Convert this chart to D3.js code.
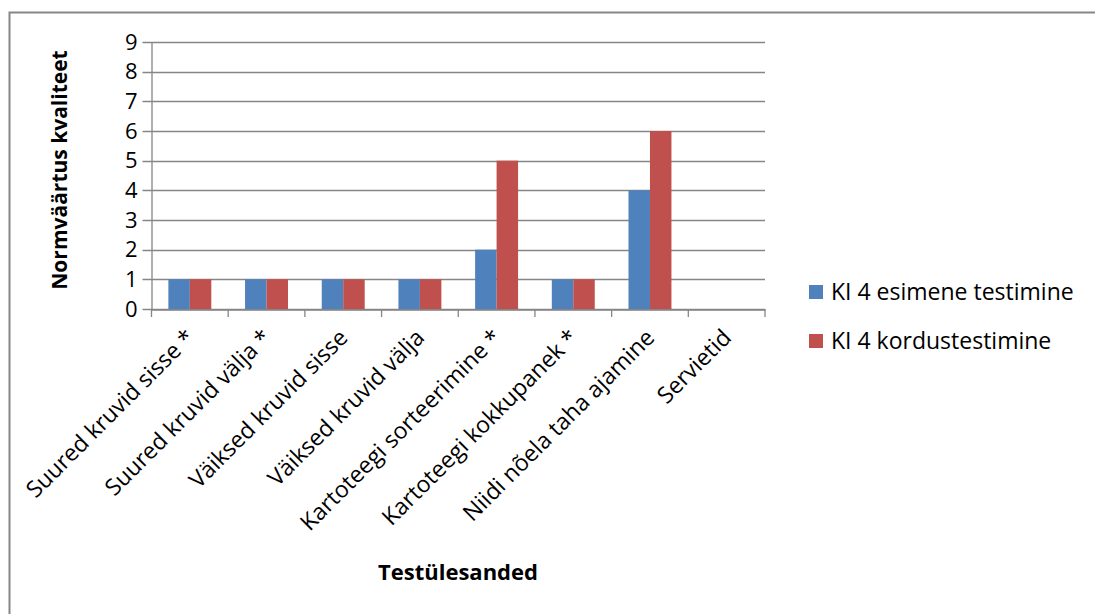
<!doctype html>
<html>
<head>
    <meta charset="utf-8">
    <title>KI 4 testimine</title>
    <script src="https://d3js.org/d3.v7.min.js"></script>
    <style>
        body { margin: 0; background: #fff; }
        text { font-family: "Open Sans", Lato, sans-serif; fill: #000; }
    </style>
</head>
<body>
    <svg width="1095" height="614"></svg>
    <script>
        // data
        var categories = ["Suured kruvid sisse *", "Suured kruvid välja *", "Väiksed kruvid sisse",
            "Väiksed kruvid välja", "Kartoteegi sorteerimine *", "Kartoteegi kokkupanek *",
            "Niidi nõela taha ajamine", "Servietid"];
        var seriesNames = ["KI 4 esimene testimine", "KI 4 kordustestimine"];
        var firstTest = [1, 1, 1, 1, 2, 1, 4, null];
        var repeatTest = [1, 1, 1, 1, 5, 1, 6, null];
        var yTicks = [0, 1, 2, 3, 4, 5, 6, 7, 8, 9];
        var colors = ["#4f81bd", "#c0504d"];

        var svg = d3.select("svg");

        // outer frame (right and bottom edges are off the picture)
        svg.append("rect")
            .attr("x", 9.5).attr("y", 12.5)
            .attr("width", 1200).attr("height", 700)
            .attr("fill", "none").attr("stroke", "#868686").attr("stroke-width", 2);

        var plotL = 151.5, plotR = 765, plotT = 42, plotB = 309;

        var x0 = d3.scaleBand().domain(categories).range([plotL, plotR]).padding(0);
        var groupW = x0.bandwidth() * 0.56;
        var x1 = d3.scaleBand().domain(seriesNames).range([0, groupW]);
        var y = d3.scaleLinear().domain([0, 9]).range([plotB, plotT]);

        // gridlines
        svg.append("g")
            .selectAll("line")
            .data(yTicks)
            .enter()
            .append("line")
            .attr("x1", plotL - 9).attr("x2", plotR)
            .attr("y1", function (d) { return Math.round(y(d)) + 0.5; })
            .attr("y2", function (d) { return Math.round(y(d)) + 0.5; })
            .attr("stroke", "#868686").attr("stroke-width", 1.3);

        // bars
        var rows = categories.map(function (c, i) {
            return { cat: c, vals: [firstTest[i], repeatTest[i]] };
        });
        var groups = svg.append("g")
            .selectAll("g")
            .data(rows)
            .enter()
            .append("g")
            .attr("transform", function (d) {
                return "translate(" + (x0(d.cat) + (x0.bandwidth() - groupW) / 2) + ",0)";
            });
        groups.selectAll("rect")
            .data(function (d) {
                return d.vals.map(function (v, k) { return { name: seriesNames[k], v: v, k: k }; })
                    .filter(function (e) { return e.v != null; });
            })
            .enter()
            .append("rect")
            .attr("x", function (d) { return x1(d.name); })
            .attr("y", function (d) { return y(d.v); })
            .attr("width", x1.bandwidth())
            .attr("height", function (d) { return y(0) - y(d.v); })
            .attr("fill", function (d) { return colors[d.k]; });

        // y axis
        var yAxis = svg.append("g")
            .attr("transform", "translate(" + plotL + ",0)")
            .call(d3.axisLeft(y).tickValues(yTicks).tickSize(0).tickPadding(14));
        yAxis.select(".domain").attr("stroke", "#868686").attr("stroke-width", 1.3);
        yAxis.selectAll("text").attr("font-size", "22px").attr("font-family", "\"Open Sans\", sans-serif");

        // x axis
        var xAxis = svg.append("g")
            .attr("transform", "translate(0," + (Math.round(plotB) + 0.5) + ")")
            .call(d3.axisBottom(x0).tickSize(0).tickFormat(""));
        xAxis.select(".domain").attr("stroke", "#868686").attr("stroke-width", 1.3);

        // tick marks between categories
        var edges = categories.map(function (c) { return x0(c); }).concat([plotR]);
        svg.append("g")
            .selectAll("line")
            .data(edges)
            .enter()
            .append("line")
            .attr("x1", function (d) { return d; })
            .attr("x2", function (d) { return d; })
            .attr("y1", plotB).attr("y2", plotB + 8)
            .attr("stroke", "#868686").attr("stroke-width", 1.3);

        // rotated category labels
        svg.append("g")
            .selectAll("text")
            .data(categories)
            .enter()
            .append("text")
            .attr("transform", function (d) {
                return "translate(" + (x0(d) + x0.bandwidth() / 2 + 6) + "," + (plotB + 30) + ") rotate(-45)";
            })
            .attr("text-anchor", "end")
            .attr("font-size", "23px")
            .text(function (d) { return d; });

        // axis titles
        svg.append("text")
            .attr("transform", "translate(67,170) rotate(-90)")
            .attr("text-anchor", "middle")
            .attr("font-size", "21px")
            .attr("font-weight", "bold")
            .text("Normväärtus kvaliteet");

        svg.append("text")
            .attr("x", 458).attr("y", 580)
            .attr("text-anchor", "middle")
            .attr("font-size", "22px")
            .attr("font-weight", "bold")
            .text("Testülesanded");

        // legend
        var legend = svg.append("g")
            .selectAll("g")
            .data(seriesNames)
            .enter()
            .append("g")
            .attr("transform", function (d, i) { return "translate(809," + (292 + i * 49) + ")"; });
        legend.append("rect")
            .attr("x", 0).attr("y", -7)
            .attr("width", 14).attr("height", 14)
            .attr("fill", function (d, i) { return colors[i]; });
        legend.append("text")
            .attr("x", 22).attr("y", 0).attr("dy", "0.35em")
            .attr("font-size", "23px")
            .text(function (d) { return d; });
    </script>
</body>
</html>
